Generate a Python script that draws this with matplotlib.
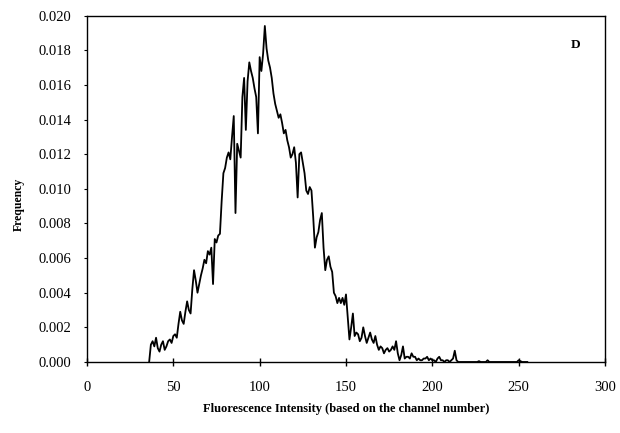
"""Fluorescence intensity histogram (panel D) redrawn from the figure."""
import matplotlib

matplotlib.use("Agg")

import matplotlib.pyplot as plt
import numpy as np

plt.rcParams["font.family"] = ["Liberation Serif", "DejaVu Serif"]

# first channel with a reading; one value per channel after that
FIRST_CHANNEL = 36
frequency = [
    0.0000, 0.0010, 0.0012, 0.0009, 0.0014, 0.0008, 0.0006, 0.0010, 0.0012, 0.0007,  # 36-45
    0.0009, 0.0012, 0.0013, 0.0011, 0.0015, 0.0016, 0.0014, 0.0022, 0.0029, 0.0024,  # 46-55
    0.0022, 0.0029, 0.0035, 0.0030, 0.0028, 0.0042, 0.0053, 0.0047, 0.0040, 0.0045,  # 56-65
    0.0050, 0.0054, 0.0059, 0.0057, 0.0064, 0.0062, 0.0066, 0.0045, 0.0071, 0.0069,  # 66-75
    0.0073, 0.0074, 0.0093, 0.0109, 0.0112, 0.0118, 0.0121, 0.0117, 0.0130, 0.0142,  # 76-85
    0.0086, 0.0126, 0.0122, 0.0118, 0.0153, 0.0164, 0.0134, 0.0162, 0.0173, 0.0168,  # 86-95
    0.0164, 0.0158, 0.0153, 0.0132, 0.0176, 0.0168, 0.0178, 0.0194, 0.0181, 0.0174,  # 96-105
    0.0170, 0.0164, 0.0155, 0.0149, 0.0145, 0.0141, 0.0143, 0.0138, 0.0132, 0.0134,  # 106-115
    0.0128, 0.0124, 0.0118, 0.0120, 0.0124, 0.0115, 0.0095, 0.0120, 0.0121, 0.0115,  # 116-125
    0.0109, 0.0099, 0.0097, 0.0101, 0.0099, 0.0084, 0.0066, 0.0072, 0.0075, 0.0082,  # 126-135
    0.0086, 0.0066, 0.0053, 0.0059, 0.0061, 0.0055, 0.0052, 0.0040, 0.0038, 0.0034,  # 136-145
    0.0037, 0.0034, 0.0037, 0.0033, 0.0039, 0.0026, 0.0013, 0.0020, 0.0028, 0.0015,  # 146-155
    0.0017, 0.0016, 0.0012, 0.0014, 0.0020, 0.0015, 0.0011, 0.0014, 0.0017, 0.0013,  # 156-165
    0.0011, 0.0015, 0.0010, 0.0007, 0.0009, 0.0008, 0.0005, 0.0007, 0.0008, 0.0006,  # 166-175
    0.0007, 0.0009, 0.0007, 0.0012, 0.0005, 0.0001, 0.0004, 0.0009, 0.0002, 0.0003,  # 176-185
    0.0003, 0.0002, 0.0005, 0.0003, 0.0003, 0.0001, 0.0002, 0.0001, 0.0001, 0.0002,  # 186-195
    0.0002, 0.0003, 0.0001, 0.0002, 0.0001, 0.0001, 0.0000, 0.0002, 0.0003, 0.0001,  # 196-205
    0.0001, 0.0000, 0.0001, 0.0001, 0.0000, 0.0001, 0.0002, 0.00065, 0.0001, 0.0000,  # 206-215
    0.0000, 0.0000, 0.0000, 0.0000, 0.0000, 0.0000, 0.0000, 0.0000, 0.0000, 0.0000,  # 216-225
    0.0000, 0.00005, 0.0000, 0.0000, 0.0000, 0.0000, 0.0001, 0.0000, 0.0000, 0.0000,  # 226-235
    0.0000, 0.0000, 0.0000, 0.0000, 0.0000, 0.0000, 0.0000, 0.0000, 0.0000, 0.0000,  # 236-245
    0.0000, 0.0000, 0.0000, 0.0000, 0.0001, 0.00005, 0.0000, 0.0000, 0.0000, 0.0000,  # 246-255
]
channels = np.arange(FIRST_CHANNEL, FIRST_CHANNEL + len(frequency))

x_ticks = [0, 50, 100, 150, 200, 250, 300]
y_ticks = [0.000, 0.002, 0.004, 0.006, 0.008, 0.010, 0.012, 0.014, 0.016, 0.018, 0.020]
panel_label = "D"

fig = plt.figure(figsize=(6.2, 4.33), dpi=100)
ax = fig.add_axes([0.1403, 0.164, 0.8355, 0.800])

ax.plot(channels, frequency, color="black", linewidth=1.3)

ax.set_xlim(0, 300)
ax.set_ylim(0, 0.020)
ax.set_xticks(x_ticks)
ax.set_xticklabels([str(t) for t in x_ticks])
ax.set_yticks(y_ticks)
ax.set_yticklabels([f"{t:.3f}" for t in y_ticks])

ax.tick_params(axis="x", direction="inout", length=6, width=1.0, pad=11, labelsize=10.5)
ax.tick_params(axis="y", direction="out", length=2, width=0.8, pad=9, labelsize=10.5)
for spine in ax.spines.values():
    spine.set_linewidth(1.0)
    spine.set_color("black")

ax.set_xlabel("Fluorescence Intensity (based on the channel number)",
              fontsize=9, fontweight="bold", labelpad=6)
ax.set_ylabel("Frequency", fontsize=8.5, fontweight="bold")
ax.yaxis.set_label_coords(-0.119, 0.455)

ax.text(0.943, 0.915, panel_label, transform=ax.transAxes, fontsize=9.5,
        fontweight="bold", ha="center", va="center")

fig.savefig("out.png", dpi=100)
plt.close(fig)
